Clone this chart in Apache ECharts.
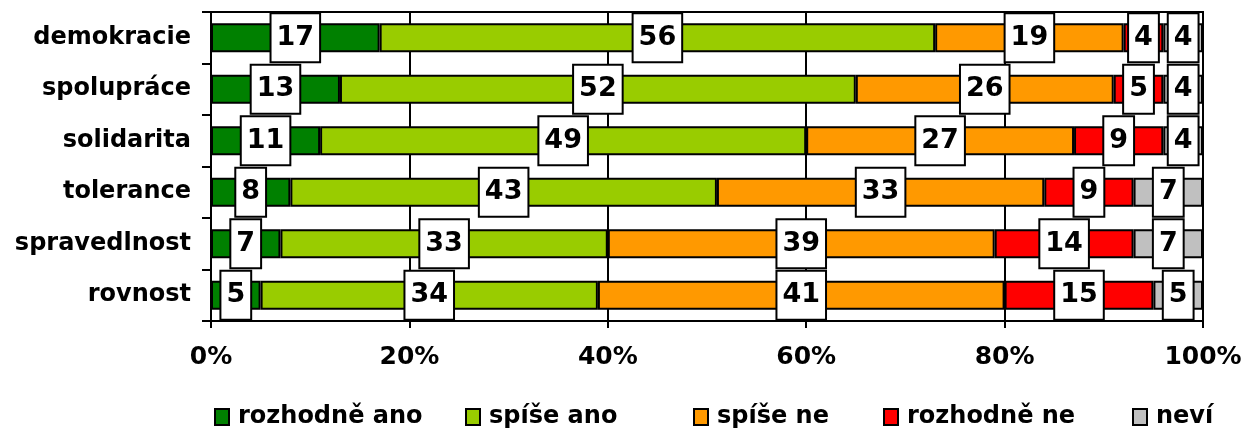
<!DOCTYPE html>
<html>
<head>
    <meta charset="utf-8" />
    <script src="https://cdn.jsdelivr.net/npm/echarts@6/dist/echarts.min.js"></script>
    <style>
        body { margin: 0; background: #fff; }
        #main { width: 1256px; height: 430px; }
    </style>
</head>
<body>
    <div id="main"></div>
    <script type="text/javascript">
        // kategorie (shora dolu)
        var categories = ['demokracie', 'spolupráce', 'solidarita', 'tolerance', 'spravedlnost', 'rovnost'];
        var seriesNames = ['rozhodně ano', 'spíše ano', 'spíše ne', 'rozhodně ne', 'neví'];
        var rozhodneAno = [17, 13, 11, 8, 7, 5];
        var spiseAno = [56, 52, 49, 43, 33, 34];
        var spiseNe = [19, 26, 27, 33, 39, 41];
        var rozhodneNe = [4, 5, 9, 9, 14, 15];
        var nevi = [4, 4, 4, 7, 7, 5];
        var xTicks = [0, 20, 40, 60, 80, 100];

        var values = [rozhodneAno, spiseAno, spiseNe, rozhodneNe, nevi];
        var colors = ['#008000', '#99CC00', '#FF9900', '#FF0000', '#C0C0C0'];
        var legendLeft = [209, 460, 688, 878, 1127];
        var font = 'DejaVu Sans';

        var myChart = echarts.init(document.getElementById('main'));

        var series = [];
        var legends = [];
        for (var i = 0; i < seriesNames.length; i++) {
            series.push({
                name: seriesNames[i],
                type: 'bar',
                stack: 'total',
                barWidth: 29,
                data: values[i],
                itemStyle: { color: colors[i], borderColor: '#000', borderWidth: 2 },
                label: {
                    show: true,
                    position: 'inside',
                    formatter: '{c}',
                    color: '#000',
                    fontFamily: font,
                    fontWeight: 'bold',
                    fontSize: 27,
                    backgroundColor: '#fff',
                    borderColor: '#000',
                    borderWidth: 2,
                    padding: [10, 5, 10, 5]
                }
            });
            legends.push({
                data: [{ name: seriesNames[i], icon: 'rect' }],
                left: legendLeft[i],
                top: 400,
                itemWidth: 14,
                itemHeight: 16,
                itemGap: 0,
                textStyle: { fontFamily: font, fontWeight: 'bold', fontSize: 24, color: '#000', padding: [0, 0, 0, 4] },
                itemStyle: { borderColor: '#000', borderWidth: 2 }
            });
        }

        var option = {
            animation: false,
            color: colors,
            legend: legends,
            grid: {
                left: 211, right: 53, top: 12, bottom: 109,
                show: true, borderColor: '#000', borderWidth: 2, backgroundColor: 'transparent'
            },
            xAxis: {
                type: 'value',
                min: 0, max: 100, interval: 20,
                axisLine: { show: true, lineStyle: { color: '#000', width: 2 } },
                axisTick: { show: true, length: 7, lineStyle: { color: '#000', width: 2 } },
                splitLine: { show: true, lineStyle: { color: '#000', width: 2 } },
                axisLabel: {
                    margin: 24,
                    fontFamily: font, fontWeight: 'bold', fontSize: 25, color: '#000',
                    formatter: function (v) { return xTicks.indexOf(v) >= 0 ? v + '%' : ''; }
                }
            },
            yAxis: {
                type: 'category',
                inverse: true,
                data: categories,
                axisLine: { show: true, lineStyle: { color: '#000', width: 2 } },
                axisTick: { show: true, length: 9, lineStyle: { color: '#000', width: 2 } },
                axisLabel: {
                    margin: 20,
                    fontFamily: font, fontWeight: 'bold', fontSize: 24, color: '#000'
                }
            },
            series: series
        };
        myChart.setOption(option);
    </script>
</body>
</html>
